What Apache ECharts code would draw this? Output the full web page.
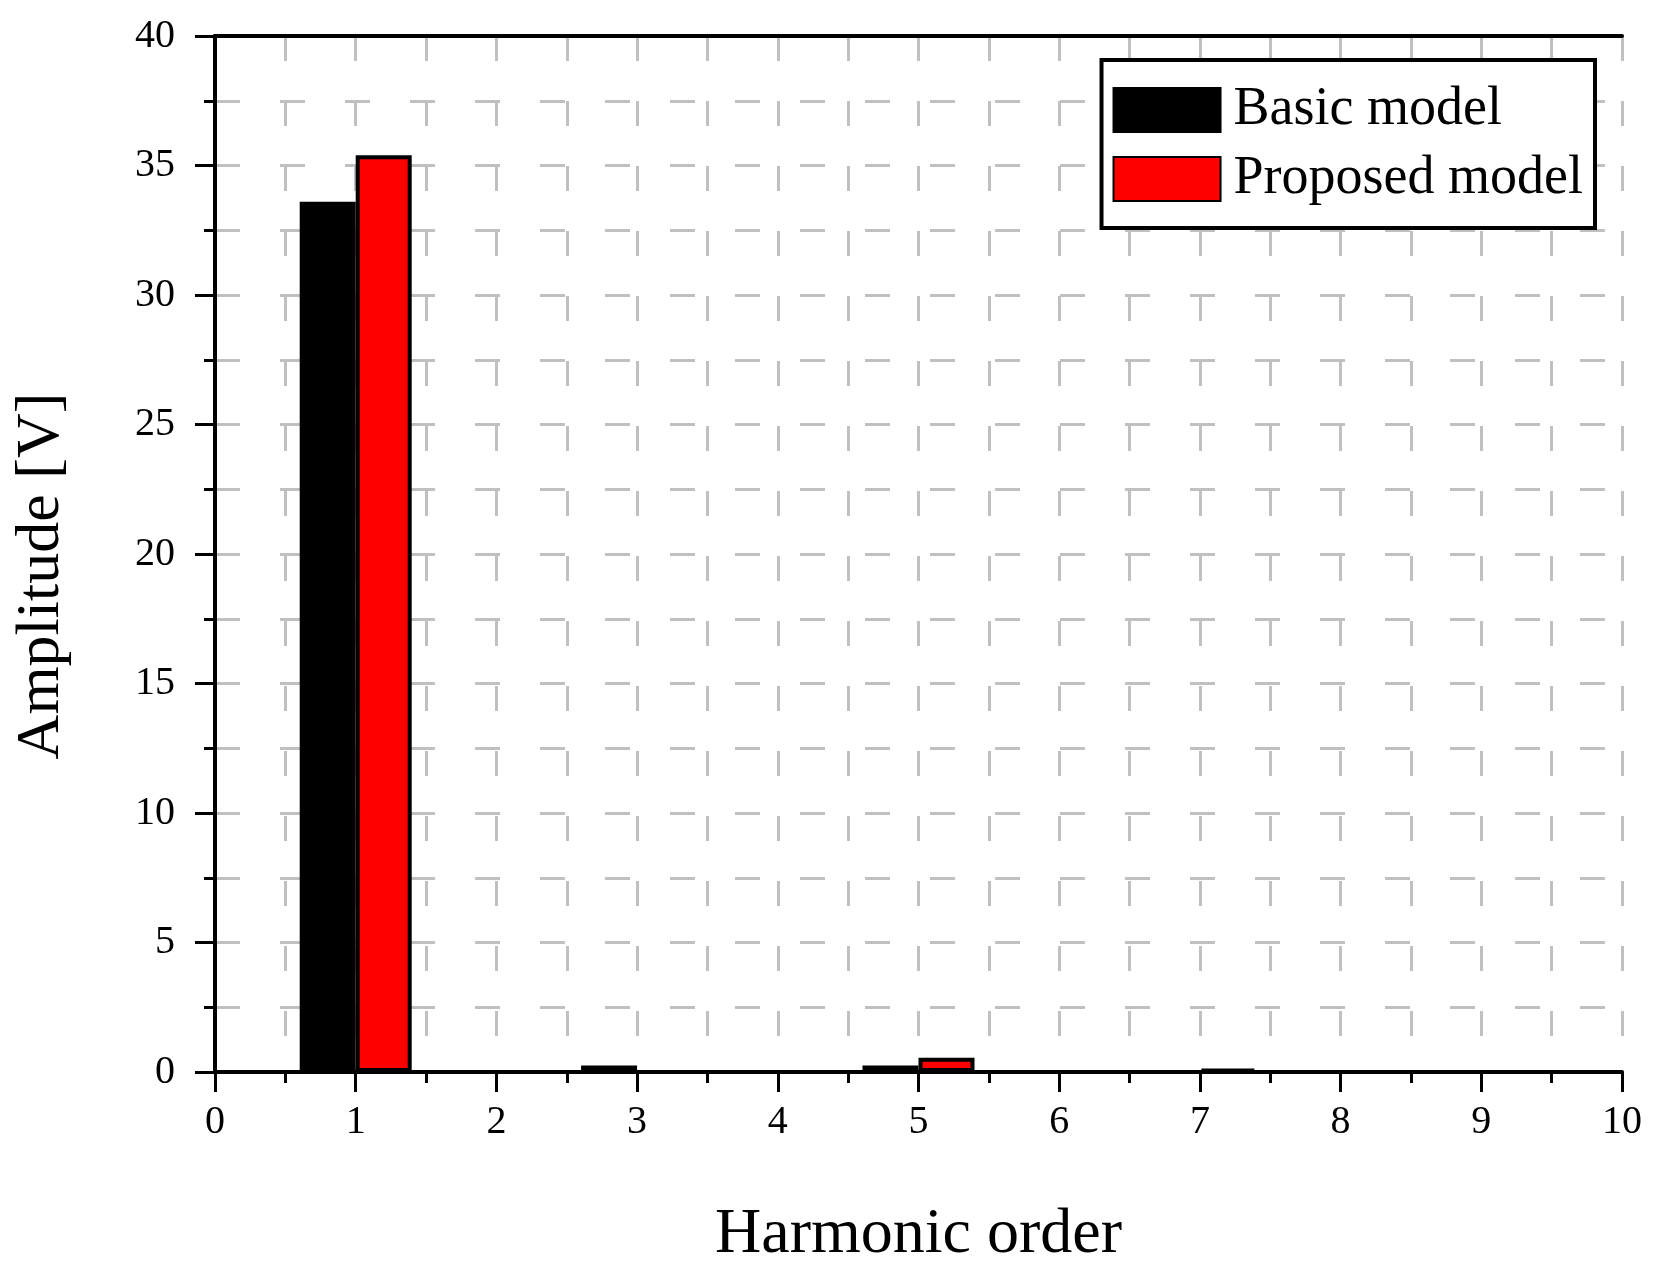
<!DOCTYPE html>
<html>
<head>
<meta charset="utf-8">
<title>Harmonic spectrum</title>
<script src="https://cdn.jsdelivr.net/npm/echarts@6/dist/echarts.min.js"></script>
<style>
  html, body { margin: 0; padding: 0; background: #fff; }
  #chart { width: 1656px; height: 1272px; }
</style>
</head>
<body>
<div id="chart"></div>
<script>
// harmonic orders that have bars
var harmonics = [1, 3, 5, 7];
// amplitude [V]
var basicModel = [33.6, 0.25, 0.25, 0];
var proposedModel = [35.4, 0, 0.55, 0.12];
// axis ticks
var xTicks = [0, 1, 2, 3, 4, 5, 6, 7, 8, 9, 10];
var yTicks = [0, 5, 10, 15, 20, 25, 30, 35, 40];

function pairs(xs, ys) {
  return xs.map(function (x, i) { return [x, ys[i]]; });
}

var font = "'Liberation Serif', 'DejaVu Serif', serif";
var gridDash = { color: '#c0c0c0', width: 3, type: [25, 40] };
var blackLine = { color: '#000', width: 4 };

var chart = echarts.init(document.getElementById('chart'));
chart.setOption({
  backgroundColor: '#fff',
  animation: false,
  grid: { left: 215, right: 34, top: 36, bottom: 197 },
  legend: {
    orient: 'vertical',
    right: 61, top: 60,
    padding: [23, 12, 22, 11],
    itemWidth: 107, itemHeight: 44, itemGap: 15,
    borderColor: '#000', borderWidth: 4, backgroundColor: '#fff',
    icon: 'rect',
    textStyle: { fontFamily: font, fontSize: 54, color: '#000', padding: [0, 0, 0, 8] },
    data: ['Basic model', 'Proposed model']
  },
  xAxis: [{
    type: 'value',
    min: xTicks[0], max: xTicks[xTicks.length - 1], interval: 1,
    name: 'Harmonic order',
    nameLocation: 'middle',
    nameGap: 131,
    nameTextStyle: { fontFamily: font, fontSize: 64, color: '#000' },
    axisLine: { show: true, onZero: false, lineStyle: blackLine },
    axisTick: { show: true, inside: false, length: 20, lineStyle: { color: '#000', width: 3 } },
    minorTick: { show: true, splitNumber: 2, length: 11, lineStyle: { color: '#000', width: 3 } },
    axisLabel: { fontFamily: font, fontSize: 40, color: '#000', margin: 30 },
    splitLine: { show: true, lineStyle: gridDash },
    minorSplitLine: { show: true, lineStyle: gridDash }
  }, {
    // top frame line
    type: 'value', position: 'top',
    min: xTicks[0], max: xTicks[xTicks.length - 1], interval: 1,
    axisLine: { show: true, onZero: false, lineStyle: blackLine },
    axisTick: { show: false }, axisLabel: { show: false }, splitLine: { show: false }
  }],
  yAxis: [{
    type: 'value',
    min: yTicks[0], max: yTicks[yTicks.length - 1], interval: 5,
    name: 'Amplitude [V]',
    nameLocation: 'middle',
    nameGap: 142,
    nameTextStyle: { fontFamily: font, fontSize: 62, color: '#000', padding: [0, 44, 0, 0] },
    axisLine: { show: true, lineStyle: blackLine },
    axisTick: { show: true, inside: false, length: 20, lineStyle: { color: '#000', width: 3 } },
    minorTick: { show: true, splitNumber: 2, length: 11, lineStyle: { color: '#000', width: 3 } },
    axisLabel: { fontFamily: font, fontSize: 40, color: '#000', margin: 40, padding: [0, 0, 18, 0] },
    splitLine: { show: true, lineStyle: gridDash },
    minorSplitLine: { show: true, lineStyle: gridDash }
  }, {
    // right frame line
    type: 'value', position: 'right',
    min: yTicks[0], max: yTicks[yTicks.length - 1], interval: 5,
    axisLine: { show: true, lineStyle: blackLine },
    axisTick: { show: false }, axisLabel: { show: false }, splitLine: { show: false }
  }],
  series: [
    {
      name: 'Basic model',
      type: 'bar',
      barWidth: 56,
      barGap: '0%',
      itemStyle: { color: '#000', borderColor: '#000', borderWidth: 4 },
      data: pairs(harmonics, basicModel)
    },
    {
      name: 'Proposed model',
      type: 'bar',
      barWidth: 56,
      barGap: '0%',
      itemStyle: { color: '#ff0000', borderColor: '#000', borderWidth: 4 },
      data: pairs(harmonics, proposedModel)
    }
  ]
});
</script>
</body>
</html>
